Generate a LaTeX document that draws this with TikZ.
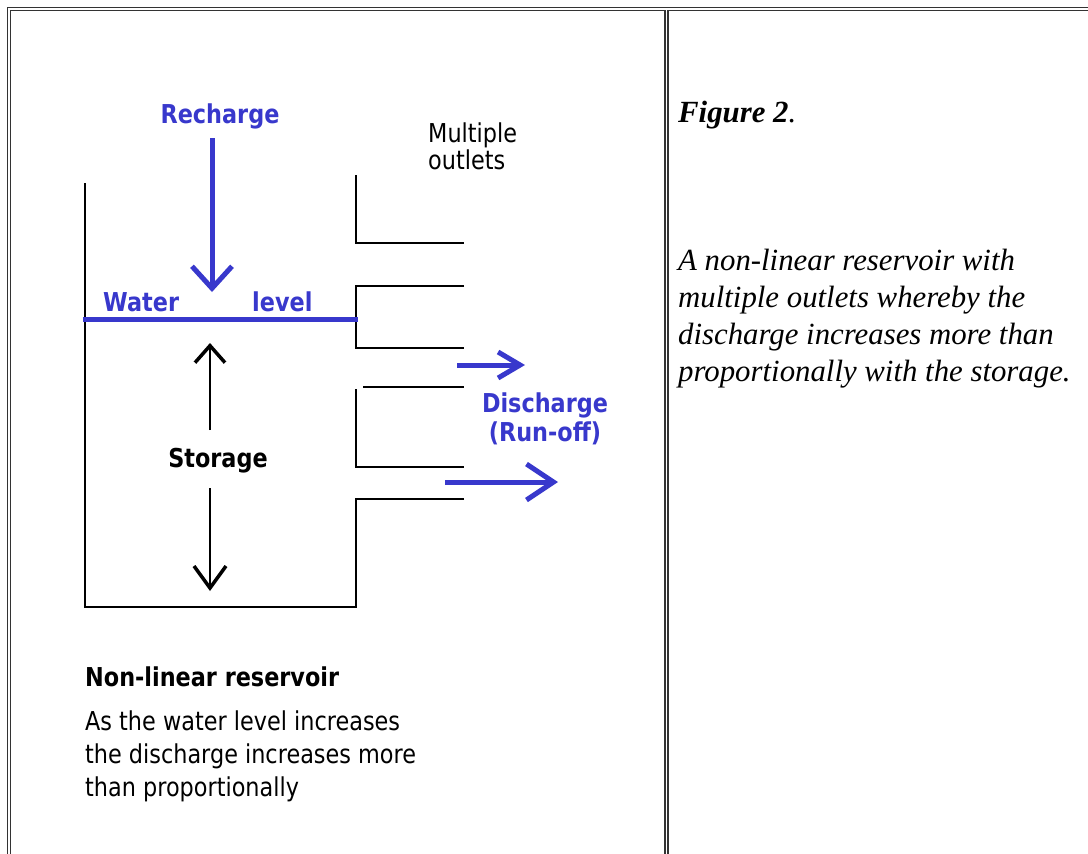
\documentclass[tikz,border=0pt]{standalone}
\usepackage{fontspec}
\setmainfont{Liberation Serif}
\newfontfamily\labelfont[FakeStretch=0.86]{DejaVu Sans}
\usepackage{tikz}
\usetikzlibrary{arrows.meta,positioning}
\definecolor{flowblue}{RGB}{56,56,204}
\tikzset{
	wall/.style={line width=1.8pt},
	frame/.style={line width=1.4pt, black!80},
	bluelbl/.style={flowblue, inner sep=0, font=\labelfont\bfseries\fontsize{26}{29}\selectfont},
	plainlbl/.style={inner sep=0, font=\labelfont\fontsize{26}{27}\selectfont},
	boldlbl/.style={inner sep=0, font=\labelfont\bfseries\fontsize{26}{26}\selectfont},
	caption/.style={inner sep=0, font=\fontsize{30.8}{37}\selectfont\itshape},
	bluearrow/.style={flowblue, line width=5pt},
	storarrow/.style={line width=1.5pt, -{Straight Barb[line width=3.5pt,length=17pt,width=30pt]}},
}

\begin{document}
\begin{tikzpicture}[x=1pt,y=-1pt]
\useasboundingbox (0,0) rectangle (1088,854);

% the table
\draw[frame] (7.5,854) -- (7.5,7.5) -- (1088,7.5);
\draw[frame] (10.5,854) -- (10.5,10.5) -- (665,10.5) -- (665,854);
\draw[frame] (668,854) -- (668,10.5) -- (1088,10.5);

% the reservoir
\draw[wall] (356,175) -- (356,243) -- (464,243);
\draw[wall] (464,286) -- (356,286) -- (356,348) -- (464,348);
\draw[wall] (363,387) -- (464,387);
\draw[wall] (356,389) -- (356,467) -- (464,467);
\draw[wall] (464,499) -- (356,499) -- (356,607) -- (85,607) -- (85,183);
\draw[flowblue, line width=4.5pt] (83,319.5) -- (358,319.5);

% the labels (base of a multi-line node = its last line)
\node[bluelbl, anchor=base] (rech) at (220,123) {Recharge};
\node[plainlbl, anchor=base west, align=left] (outl) at (428,169) {Multiple\\outlets};
\node[bluelbl, anchor=base west] (wat) at (103,311) {Water};
\node[bluelbl, anchor=base west] (lvl) at (252,311) {level};
\node[bluelbl, anchor=base, align=center] (dis) at (545,441) {Discharge\\(Run-off)};
\node[boldlbl, anchor=base] (stor) at (218,467) {Storage};
\node[boldlbl, anchor=base west] (title) at (85,686) {Non-linear reservoir};
\node[plainlbl, anchor=base west, align=left, font=\labelfont\fontsize{26}{33}\selectfont] (note) at (85,796)
	{As the water level increases\\the discharge increases more\\than proportionally};
\node[caption, anchor=base west] (fig) at (678,122) {\textbf{Figure 2}.};
\node[caption, anchor=base west, align=left] (cap) at (678,381)
	{A non-linear reservoir with\\multiple outlets whereby the\\discharge increases more than\\proportionally with the storage.};

% the arrows
\coordinate (rechtop) at (212,138);
\coordinate (rechtip) at (212,292);
\coordinate (out1a) at (457,365);
\coordinate (out1b) at (525,365);
\coordinate (out2a) at (445,482);
\coordinate (out2b) at (558,482);
\coordinate (stupa) at (210,430);
\coordinate (stupb) at (210,343);
\coordinate (stdna) at (210,488);
\coordinate (stdnb) at (210,591);
\draw[bluearrow, -{Straight Barb[length=22pt,width=40pt]}] (rechtop) -- (rechtip);
\draw[bluearrow, -{Straight Barb[length=22pt,width=26pt]}] (out1a) -- (out1b);
\draw[bluearrow, -{Straight Barb[length=27pt,width=36pt]}] (out2a) -- (out2b);
\draw[storarrow] (stupa) -- (stupb);
\draw[storarrow, -{Straight Barb[line width=3.5pt,length=22pt,width=32pt]}] (stdna) -- (stdnb);

\end{tikzpicture}
\end{document}
